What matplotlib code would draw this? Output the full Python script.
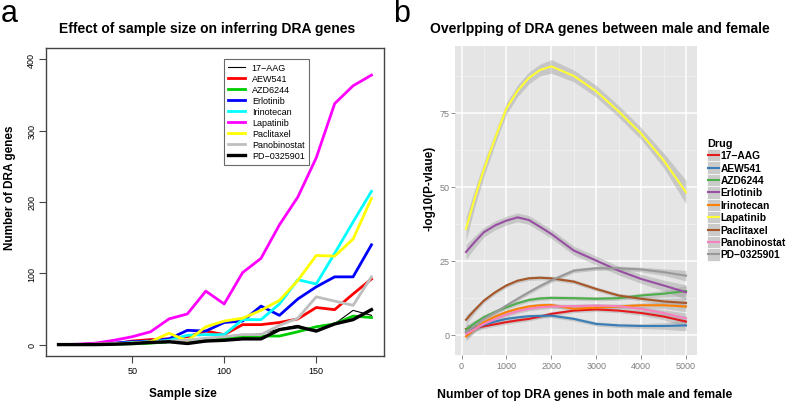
"""Two panels: (a) DRA genes vs sample size, (b) male/female overlap of DRA genes."""

import matplotlib
matplotlib.use("Agg")
import matplotlib.pyplot as plt
from matplotlib.patches import Rectangle
from matplotlib.lines import Line2D

plt.rcParams["font.family"] = ["Liberation Sans", "DejaVu Sans"]

MINUS = "\u2212"
drugs = ["17" + MINUS + "AAG", "AEW541", "AZD6244", "Erlotinib", "Irinotecan",
         "Lapatinib", "Paclitaxel", "Panobinostat", "PD" + MINUS + "0325901"]

# ---- panel a: number of DRA genes by sample size ----
sample_size = [10, 20, 30, 40, 50, 60, 70, 80, 90, 100, 110, 120, 130, 140, 150, 160, 170, 180]
a_17aag = [0, 0, 0, 0.5, 1, 2, 3, 4, 4, 9, 13, 15, 22, 27, 18, 29, 48, 41]
a_aew541 = [0, 0, 0.5, 1, 5, 7, 8, 11, 19, 14, 28, 28, 31, 36, 52, 49, 71, 92]
a_azd6244 = [0, 0, 0, 0.5, 1, 2, 4, 6, 7, 8, 11, 12, 12, 18, 25, 29, 40, 38]
a_erlotinib = [0, 0, 1, 2, 4, 5, 8, 20, 19, 31, 33, 54, 41, 64, 81, 95, 95, 140]
a_irinotecan = [0, 0, 0.5, 1, 3, 4, 6, 13, 14, 14, 35, 35, 57, 91, 85, 128, 172, 215]
a_lapatinib = [0, 0.5, 2, 6, 11, 18, 36, 43, 75, 57, 101, 121, 168, 207, 262, 338, 363, 378]
a_paclitaxel = [0, 0, 0.5, 1, 2, 4, 16, 5, 25, 33, 37, 48, 62, 90, 125, 124, 148, 205]
a_panobinostat = [0, 0, 0.5, 1, 2, 3, 5, 6, 9, 11, 14, 14, 27, 37, 67, 61, 55, 95]
a_pd0325901 = [0, 0, 0, 0.5, 1.5, 3, 4, 1.5, 5, 6, 8, 8, 21, 25, 19, 29, 35, 49]

a_series = [a_17aag, a_aew541, a_azd6244, a_erlotinib, a_irinotecan,
            a_lapatinib, a_paclitaxel, a_panobinostat, a_pd0325901]
a_colors = ["black", "#FF0000", "#00CD00", "#0000FF", "#00FFFF",
            "#FF00FF", "#FFFF00", "#BEBEBE", "black"]
a_widths = [0.8, 2, 2, 2, 2, 2, 2, 2, 2.4]

# ---- panel b: -log10(p) of overlap vs top-N genes (loess fits) ----
top_n = [100, 300, 500, 750, 1000, 1250, 1500, 1750, 2000, 2500, 3000, 3500, 4000, 4500, 5000]
b_17aag = [2, 2.4, 2.9, 3.6, 4.3, 4.9, 5.4, 6.2, 7.1, 8.2, 8.6, 8.2, 7.4, 6.2, 4.5]
b_aew541 = [0.9, 2.2, 3.4, 4.5, 5.4, 5.9, 6.3, 6.4, 6.5, 5.4, 3.7, 3.2, 3.0, 3.0, 3.2]
b_azd6244 = [1.8, 4, 6, 7.8, 9.3, 10.7, 11.8, 12.3, 12.5, 12.4, 12.2, 12.4, 13.3, 13.9, 14.8]
b_erlotinib = [28, 31.5, 34.7, 37, 38.6, 39.7, 38.8, 36.5, 34.1, 28.5, 25.1, 21.7, 18.9, 16.7, 14.4]
b_irinotecan = [-0.5, 2, 4.3, 6.2, 7.7, 8.8, 9.6, 10, 10.1, 8.8, 9.2, 9.6, 10, 10, 9.6]
b_lapatinib = [35.8, 46.5, 56, 66.5, 76.5, 82.5, 86.8, 89.5, 90.7, 87.5, 82.3, 75.5, 68, 59, 48.2]
b_paclitaxel = [5.1, 8.5, 11.6, 14.4, 16.7, 18.3, 19.1, 19.3, 19.1, 18, 15.5, 13.3, 12.2, 11.3, 10.8]
b_panobinostat = [0.3, 2, 3.7, 5.3, 6.8, 8, 8.8, 9.3, 9.6, 9.7, 9.9, 9.7, 8.8, 7.4, 5.6]
b_pd0325901 = [1, 3, 5.4, 7.6, 9.9, 12.2, 14.4, 16.5, 18.4, 21.7, 22.5, 22.5, 22.1, 21.2, 20]

# standard-error half widths of the ribbons
se_lapatinib = [4, 3, 2.5, 2, 2, 2, 2, 2, 2.3, 2, 2, 2, 2, 2.5, 4]
se_erlotinib = [2.5, 2, 1.6, 1.5, 1.5, 1.5, 1.5, 1.5, 1.5, 1.5, 1.5, 1.5, 1.5, 1.8, 2.5]
se_other = [1.6, 1, 0.8, 0.7, 0.7, 0.7, 0.7, 0.7, 0.7, 0.7, 0.7, 0.7, 0.8, 1.1, 1.8]

b_series = [b_17aag, b_aew541, b_azd6244, b_erlotinib, b_irinotecan,
            b_lapatinib, b_paclitaxel, b_panobinostat, b_pd0325901]
b_se = [se_other, se_other, se_other, se_erlotinib, se_other,
        se_lapatinib, se_other, se_other, se_other]
b_colors = ["#E41A1C", "#377EB8", "#4DAF4A", "#984EA3", "#FF7F00",
            "#FFFF33", "#A65628", "#F781BF", "#999999"]

W, H = 787, 402
fig = plt.figure(figsize=(W / 100, H / 100), dpi=100)


def fx(px):
    return px / W


def fy(py):
    return 1 - py / H


# ===== panel a =====
ax1 = fig.add_axes([fx(46), fy(357), fx(384 - 46), (357 - 49) / H])
for ys, c, lw in zip(a_series, a_colors, a_widths):
    ax1.plot(sample_size, ys, color=c, lw=lw)
ax1.set_xlim(3.2, 186.8)
ax1.set_ylim(-16, 416)
ax1.set_xticks([50, 100, 150])
ax1.set_yticks([0, 100, 200, 300, 400])
ax1.tick_params(labelsize=6.5, length=5, width=0.8, color="#444444", pad=2)
for lab in ax1.get_yticklabels():
    lab.set_rotation(90)
    lab.set_va("center")
for s in ax1.spines.values():
    s.set_color("#444444")
    s.set_linewidth(1)

handles = [Line2D([], [], color=c, lw=lw) for c, lw in zip(a_colors, a_widths)]
leg = ax1.legend(handles, drugs, loc="upper left", bbox_to_anchor=(0.526, 0.965),
                 fontsize=6.5, frameon=True, fancybox=False, handlelength=1.8,
                 handletextpad=0.8, labelspacing=0.22, borderpad=0.5,
                 borderaxespad=0)
leg.get_frame().set_edgecolor("#444444")
leg.get_frame().set_linewidth(0.8)

fig.text(fx(207), fy(29), "Effect of sample size on inferring DRA genes",
         ha="center", va="center", fontsize=10, fontweight="bold")
fig.text(fx(10), fy(188), "Number of DRA genes", rotation=90,
         ha="center", va="center", fontsize=8.5, fontweight="bold")
fig.text(fx(183), fy(394), "Sample size", ha="center", va="center",
         fontsize=8.5, fontweight="bold")
fig.text(fx(1), fy(14), "a", ha="left", va="center", fontsize=22)

# ===== panel b =====
ax2 = fig.add_axes([fx(455), fy(356), fx(697 - 455), (356 - 47) / H])
ax2.set_facecolor("#E5E5E5")
ax2.set_xlim(-145, 5245)
ax2.set_ylim(-6.8, 97.6)
ax2.set_xticks([0, 1000, 2000, 3000, 4000, 5000])
ax2.set_yticks([0, 25, 50, 75])
ax2.set_xticks([500, 1500, 2500, 3500, 4500], minor=True)
ax2.set_yticks([12.5, 37.5, 62.5, 87.5], minor=True)
ax2.grid(which="major", color="white", lw=1.1)
ax2.grid(which="minor", color="#F2F2F2", lw=0.5)
ax2.set_axisbelow(True)
for s in ax2.spines.values():
    s.set_visible(False)
ax2.tick_params(which="major", labelsize=6.5, labelcolor="#7F7F7F",
                color="#7F7F7F", length=3, width=0.6, pad=1)
ax2.tick_params(which="minor", length=0)

for ys, se in zip(b_series, b_se):
    lo = [y - s for y, s in zip(ys, se)]
    hi = [y + s for y, s in zip(ys, se)]
    ax2.fill_between(top_n, lo, hi, color="#999999", alpha=0.4, lw=0)
for ys, c in zip(b_series, b_colors):
    ax2.plot(top_n, ys, color=c, lw=1.5)

fig.text(fx(600), fy(29), "Overlpping of DRA genes between male and female",
         ha="center", va="center", fontsize=10, fontweight="bold")
fig.text(fx(429), fy(188), "-log10(P-vlaue)", rotation=90,
         ha="center", va="center", fontsize=8.5, fontweight="bold")
fig.text(fx(585), fy(395), "Number of top DRA genes in both male and female",
         ha="center", va="center", fontsize=8.8, fontweight="bold")
fig.text(fx(393), fy(14), "b", ha="left", va="center", fontsize=22)

# legend of panel b (ggplot style keys)
fig.text(fx(707), fy(144), "Drug", ha="left", va="center",
         fontsize=7.8, fontweight="bold")
key_top, key_h, key_w = 150, 12.4, 12.5
for i, (name, c) in enumerate(zip(drugs, b_colors)):
    y0 = key_top + i * key_h
    fig.add_artist(Rectangle((fx(707), fy(y0 + key_h)), key_w / W, key_h / H,
                             facecolor="#CBCBCB", edgecolor="white", lw=0.5,
                             transform=fig.transFigure))
    fig.add_artist(Line2D([fx(708), fx(718.5)], [fy(y0 + key_h / 2)] * 2,
                          color=c, lw=1.5, transform=fig.transFigure))
    fig.text(fx(720.5), fy(y0 + key_h / 2), name, ha="left", va="center",
             fontsize=7.4, fontweight="bold")

fig.savefig("out.png", dpi=100)
